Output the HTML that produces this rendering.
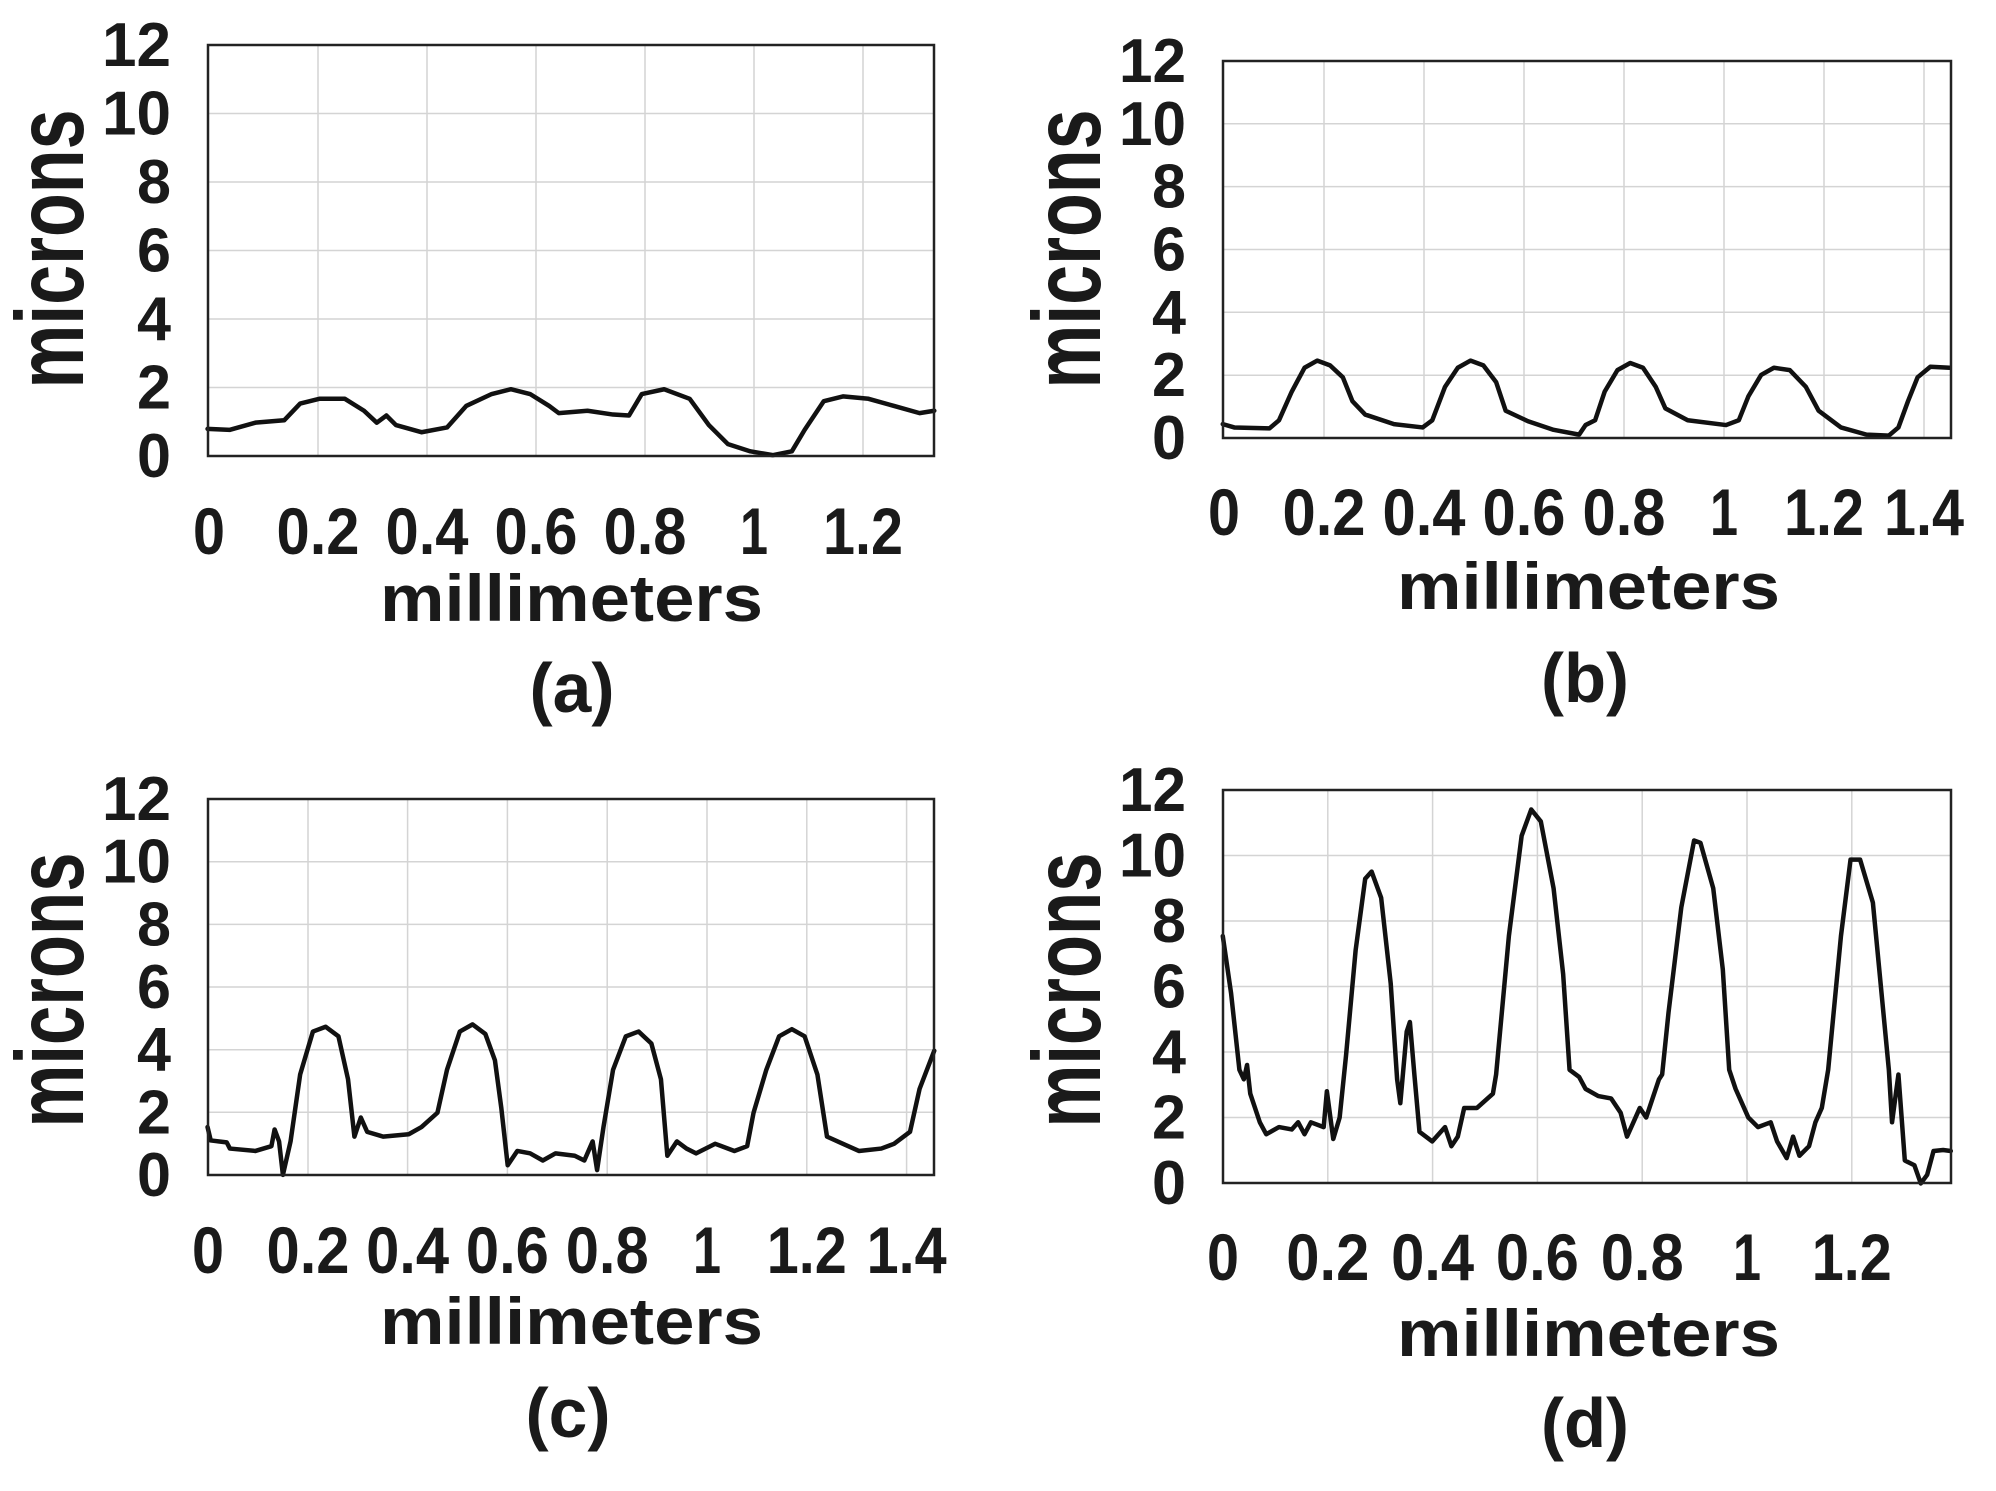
<!DOCTYPE html>
<html><head><meta charset="utf-8"><style>
html,body{margin:0;padding:0;background:#fff}
svg{display:block}
text{font-family:"Liberation Sans",Arial,sans-serif;font-weight:bold;fill:#1a1a1a}
.g{stroke:#d4d4d4;stroke-width:1.5}
.ax{fill:none;stroke:#222;stroke-width:2.5}
.c{fill:none;stroke:#111;stroke-width:4.5;stroke-linejoin:round;stroke-linecap:round;vector-effect:non-scaling-stroke}
.yt{font-size:62px;text-anchor:end}
.xt{font-size:66px;text-anchor:middle}
.ml{font-size:66px}
.pl{font-size:70px;text-anchor:middle}
.mc{font-size:74px;text-anchor:middle}
</style></head><body>
<svg width="1996" height="1491" viewBox="0 0 1996 1491" xmlns="http://www.w3.org/2000/svg">
<rect width="1996" height="1491" fill="#fff"/>

<!-- Panel a -->
<g>
<g class="g">
<line x1="318" y1="45" x2="318" y2="456"/><line x1="427" y1="45" x2="427" y2="456"/><line x1="536" y1="45" x2="536" y2="456"/><line x1="645" y1="45" x2="645" y2="456"/><line x1="754" y1="45" x2="754" y2="456"/><line x1="863" y1="45" x2="863" y2="456"/>
<line x1="208" y1="387.5" x2="934" y2="387.5"/><line x1="208" y1="319" x2="934" y2="319"/><line x1="208" y1="250.5" x2="934" y2="250.5"/><line x1="208" y1="182" x2="934" y2="182"/><line x1="208" y1="113.5" x2="934" y2="113.5"/>
</g>
<polyline class="c" transform="scale(0.6386,0.4776)" points="325,898 360,900 400,885 445,880 470,845 500,835 540,835 570,860 590,885 605,870 620,890 660,905 700,895 730,850 770,825 800,815 830,825 860,850 875,865 920,860 960,868 985,870 1005,825 1040,815 1080,835 1110,890 1140,930 1175,945 1210,953 1240,945 1260,900 1290,840 1320,830 1360,835 1400,850 1440,865 1463,860"/>
<rect class="ax" x="208" y="45" width="726" height="411"/>
<text class="yt" x="171" y="477" textLength="34" lengthAdjust="spacingAndGlyphs">0</text>
<text class="yt" x="171" y="408.5" textLength="34" lengthAdjust="spacingAndGlyphs">2</text>
<text class="yt" x="171" y="340" textLength="34" lengthAdjust="spacingAndGlyphs">4</text>
<text class="yt" x="171" y="271.5" textLength="34" lengthAdjust="spacingAndGlyphs">6</text>
<text class="yt" x="171" y="203" textLength="34" lengthAdjust="spacingAndGlyphs">8</text>
<text class="yt" x="171" y="134.5" textLength="69" lengthAdjust="spacingAndGlyphs">10</text>
<text class="yt" x="171" y="66" textLength="69" lengthAdjust="spacingAndGlyphs">12</text>
<text class="xt" x="209" y="554" textLength="32" lengthAdjust="spacingAndGlyphs">0</text><text class="xt" x="318" y="554" textLength="83" lengthAdjust="spacingAndGlyphs">0.2</text><text class="xt" x="427" y="554" textLength="83" lengthAdjust="spacingAndGlyphs">0.4</text><text class="xt" x="536" y="554" textLength="83" lengthAdjust="spacingAndGlyphs">0.6</text><text class="xt" x="645" y="554" textLength="83" lengthAdjust="spacingAndGlyphs">0.8</text><text class="xt" x="754" y="554" textLength="28" lengthAdjust="spacingAndGlyphs">1</text><text class="xt" x="863" y="554" textLength="80" lengthAdjust="spacingAndGlyphs">1.2</text>
<text class="ml" x="380" y="621" textLength="383" lengthAdjust="spacingAndGlyphs">millimeters</text>
<text class="pl" x="572" y="712" textLength="85" lengthAdjust="spacingAndGlyphs">(a)</text>
<text class="mc" transform="translate(83,249) rotate(-90) scale(1,1.3)" textLength="279" lengthAdjust="spacingAndGlyphs">microns</text>
</g>

<!-- Panel b -->
<g>
<g class="g">
<line x1="1324" y1="61" x2="1324" y2="438"/><line x1="1424" y1="61" x2="1424" y2="438"/><line x1="1524" y1="61" x2="1524" y2="438"/><line x1="1624" y1="61" x2="1624" y2="438"/><line x1="1724" y1="61" x2="1724" y2="438"/><line x1="1824" y1="61" x2="1824" y2="438"/><line x1="1924" y1="61" x2="1924" y2="438"/>
<line x1="1223" y1="375.2" x2="1951" y2="375.2"/><line x1="1223" y1="312.3" x2="1951" y2="312.3"/><line x1="1223" y1="249.5" x2="1951" y2="249.5"/><line x1="1223" y1="186.6" x2="1951" y2="186.6"/><line x1="1223" y1="123.8" x2="1951" y2="123.8"/>
</g>
<polyline class="c" transform="translate(998,0) scale(0.6386,0.4776)" points="352,888 370,895 425,897 440,880 460,820 480,770 500,755 520,765 540,790 555,840 575,868 620,888 665,895 680,880 700,810 720,770 740,755 760,765 780,800 795,860 830,882 870,900 910,910 920,890 935,880 950,820 970,775 990,760 1010,770 1030,810 1045,855 1080,880 1140,890 1160,880 1175,830 1195,785 1215,770 1240,775 1265,810 1285,860 1320,895 1360,910 1395,912 1410,895 1425,840 1440,790 1460,768 1490,770"/>
<rect class="ax" x="1223" y="61" width="728" height="377"/>
<text class="yt" x="1186" y="459" textLength="34" lengthAdjust="spacingAndGlyphs">0</text>
<text class="yt" x="1186" y="396.2" textLength="34" lengthAdjust="spacingAndGlyphs">2</text>
<text class="yt" x="1186" y="333.3" textLength="34" lengthAdjust="spacingAndGlyphs">4</text>
<text class="yt" x="1186" y="270.5" textLength="34" lengthAdjust="spacingAndGlyphs">6</text>
<text class="yt" x="1186" y="207.6" textLength="34" lengthAdjust="spacingAndGlyphs">8</text>
<text class="yt" x="1186" y="144.8" textLength="67" lengthAdjust="spacingAndGlyphs">10</text>
<text class="yt" x="1186" y="82" textLength="67" lengthAdjust="spacingAndGlyphs">12</text>
<text class="xt" x="1224" y="535" textLength="32" lengthAdjust="spacingAndGlyphs">0</text><text class="xt" x="1324" y="535" textLength="83" lengthAdjust="spacingAndGlyphs">0.2</text><text class="xt" x="1424" y="535" textLength="83" lengthAdjust="spacingAndGlyphs">0.4</text><text class="xt" x="1524" y="535" textLength="83" lengthAdjust="spacingAndGlyphs">0.6</text><text class="xt" x="1624" y="535" textLength="83" lengthAdjust="spacingAndGlyphs">0.8</text><text class="xt" x="1724" y="535" textLength="28" lengthAdjust="spacingAndGlyphs">1</text><text class="xt" x="1824" y="535" textLength="80" lengthAdjust="spacingAndGlyphs">1.2</text><text class="xt" x="1924" y="535" textLength="80" lengthAdjust="spacingAndGlyphs">1.4</text>
<text class="ml" x="1397" y="609" textLength="383" lengthAdjust="spacingAndGlyphs">millimeters</text>
<text class="pl" x="1585" y="702" textLength="88" lengthAdjust="spacingAndGlyphs">(b)</text>
<text class="mc" transform="translate(1100,249) rotate(-90) scale(1,1.3)" textLength="279" lengthAdjust="spacingAndGlyphs">microns</text>
</g>

<!-- Panel c -->
<g>
<g class="g">
<line x1="308" y1="799" x2="308" y2="1175"/><line x1="407.6" y1="799" x2="407.6" y2="1175"/><line x1="507.4" y1="799" x2="507.4" y2="1175"/><line x1="607.2" y1="799" x2="607.2" y2="1175"/><line x1="707" y1="799" x2="707" y2="1175"/><line x1="806.8" y1="799" x2="806.8" y2="1175"/><line x1="906.6" y1="799" x2="906.6" y2="1175"/>
<line x1="208" y1="1112.3" x2="934" y2="1112.3"/><line x1="208" y1="1049.7" x2="934" y2="1049.7"/><line x1="208" y1="987" x2="934" y2="987"/><line x1="208" y1="924.4" x2="934" y2="924.4"/><line x1="208" y1="861.7" x2="934" y2="861.7"/>
</g>
<polyline class="c" transform="translate(0,745) scale(0.6386,0.4776)" points="325,800 330,828 355,832 360,845 400,850 425,840 430,805 437,830 443,900 455,830 470,690 490,600 510,590 530,610 545,700 555,820 565,780 575,810 600,820 640,815 660,800 685,770 700,680 720,600 740,585 760,605 775,660 785,760 795,880 810,850 830,855 850,870 870,855 900,860 915,870 928,830 935,890 945,800 960,680 980,610 1000,600 1020,625 1035,700 1045,860 1060,830 1075,845 1090,855 1120,835 1150,850 1170,840 1180,770 1200,680 1220,610 1240,595 1260,610 1280,690 1295,820 1320,835 1345,850 1380,845 1400,835 1425,810 1440,720 1463,640"/>
<rect class="ax" x="208" y="799" width="726" height="376"/>
<text class="yt" x="171" y="1196" textLength="34" lengthAdjust="spacingAndGlyphs">0</text>
<text class="yt" x="171" y="1133.3" textLength="34" lengthAdjust="spacingAndGlyphs">2</text>
<text class="yt" x="171" y="1070.7" textLength="34" lengthAdjust="spacingAndGlyphs">4</text>
<text class="yt" x="171" y="1008" textLength="34" lengthAdjust="spacingAndGlyphs">6</text>
<text class="yt" x="171" y="945.4" textLength="34" lengthAdjust="spacingAndGlyphs">8</text>
<text class="yt" x="171" y="882.7" textLength="69" lengthAdjust="spacingAndGlyphs">10</text>
<text class="yt" x="171" y="820" textLength="69" lengthAdjust="spacingAndGlyphs">12</text>
<text class="xt" x="208" y="1273" textLength="32" lengthAdjust="spacingAndGlyphs">0</text><text class="xt" x="308" y="1273" textLength="83" lengthAdjust="spacingAndGlyphs">0.2</text><text class="xt" x="407.6" y="1273" textLength="83" lengthAdjust="spacingAndGlyphs">0.4</text><text class="xt" x="507.4" y="1273" textLength="83" lengthAdjust="spacingAndGlyphs">0.6</text><text class="xt" x="607.2" y="1273" textLength="83" lengthAdjust="spacingAndGlyphs">0.8</text><text class="xt" x="707" y="1273" textLength="28" lengthAdjust="spacingAndGlyphs">1</text><text class="xt" x="806.8" y="1273" textLength="80" lengthAdjust="spacingAndGlyphs">1.2</text><text class="xt" x="906.6" y="1273" textLength="80" lengthAdjust="spacingAndGlyphs">1.4</text>
<text class="ml" x="380" y="1344" textLength="383" lengthAdjust="spacingAndGlyphs">millimeters</text>
<text class="pl" x="568" y="1437" textLength="85" lengthAdjust="spacingAndGlyphs">(c)</text>
<text class="mc" transform="translate(83,990) rotate(-90) scale(1,1.3)" textLength="275" lengthAdjust="spacingAndGlyphs">microns</text>
</g>

<!-- Panel d -->
<g>
<g class="g">
<line x1="1327.8" y1="790" x2="1327.8" y2="1183"/><line x1="1432.6" y1="790" x2="1432.6" y2="1183"/><line x1="1537.4" y1="790" x2="1537.4" y2="1183"/><line x1="1642.2" y1="790" x2="1642.2" y2="1183"/><line x1="1747" y1="790" x2="1747" y2="1183"/><line x1="1851.8" y1="790" x2="1851.8" y2="1183"/>
<line x1="1223" y1="1117.5" x2="1951" y2="1117.5"/><line x1="1223" y1="1052" x2="1951" y2="1052"/><line x1="1223" y1="986.5" x2="1951" y2="986.5"/><line x1="1223" y1="921" x2="1951" y2="921"/><line x1="1223" y1="855.5" x2="1951" y2="855.5"/>
</g>
<polyline class="c" transform="translate(998,745) scale(0.6386,0.4776)" points="352,400 365,520 378,680 385,700 390,670 395,730 410,790 420,815 440,800 460,805 470,790 480,815 490,790 510,800 515,725 525,825 535,780 545,650 560,430 575,280 585,265 600,320 615,500 625,700 630,750 640,600 645,580 652,690 660,810 680,830 700,800 710,840 720,820 730,760 750,760 775,730 780,690 800,400 820,190 835,135 850,160 870,300 885,480 895,680 910,695 920,720 940,735 960,740 975,770 985,820 995,790 1005,760 1015,780 1035,700 1040,690 1050,560 1070,340 1090,200 1100,205 1120,300 1135,470 1145,680 1155,720 1175,780 1190,800 1210,790 1220,830 1235,865 1245,820 1255,860 1270,840 1280,790 1290,760 1300,680 1320,400 1335,240 1350,240 1370,330 1385,540 1395,680 1400,790 1410,690 1420,870 1435,880 1445,918 1455,900 1465,850 1480,848 1492,850"/>
<rect class="ax" x="1223" y="790" width="728" height="393"/>
<text class="yt" x="1186" y="1204" textLength="34" lengthAdjust="spacingAndGlyphs">0</text>
<text class="yt" x="1186" y="1138.5" textLength="34" lengthAdjust="spacingAndGlyphs">2</text>
<text class="yt" x="1186" y="1073" textLength="34" lengthAdjust="spacingAndGlyphs">4</text>
<text class="yt" x="1186" y="1007.5" textLength="34" lengthAdjust="spacingAndGlyphs">6</text>
<text class="yt" x="1186" y="942" textLength="34" lengthAdjust="spacingAndGlyphs">8</text>
<text class="yt" x="1186" y="876.5" textLength="67" lengthAdjust="spacingAndGlyphs">10</text>
<text class="yt" x="1186" y="811" textLength="67" lengthAdjust="spacingAndGlyphs">12</text>
<text class="xt" x="1223" y="1280" textLength="32" lengthAdjust="spacingAndGlyphs">0</text><text class="xt" x="1327.8" y="1280" textLength="83" lengthAdjust="spacingAndGlyphs">0.2</text><text class="xt" x="1432.6" y="1280" textLength="83" lengthAdjust="spacingAndGlyphs">0.4</text><text class="xt" x="1537.4" y="1280" textLength="83" lengthAdjust="spacingAndGlyphs">0.6</text><text class="xt" x="1642.2" y="1280" textLength="83" lengthAdjust="spacingAndGlyphs">0.8</text><text class="xt" x="1747" y="1280" textLength="28" lengthAdjust="spacingAndGlyphs">1</text><text class="xt" x="1851.8" y="1280" textLength="80" lengthAdjust="spacingAndGlyphs">1.2</text>
<text class="ml" x="1397" y="1356" textLength="383" lengthAdjust="spacingAndGlyphs">millimeters</text>
<text class="pl" x="1585" y="1447" textLength="88" lengthAdjust="spacingAndGlyphs">(d)</text>
<text class="mc" transform="translate(1100,990) rotate(-90) scale(1,1.3)" textLength="275" lengthAdjust="spacingAndGlyphs">microns</text>
</g>
</svg>
</body></html>
